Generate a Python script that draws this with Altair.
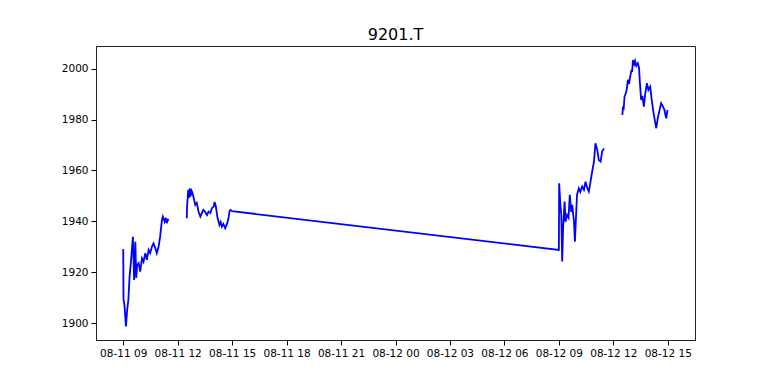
import altair as alt
import pandas as pd

# Day 1 morning session (2020-08-11)
d1am_time = ["09:00", "09:01", "09:04", "09:09", "09:13", "09:17", "09:21", "09:26", "09:32", "09:36",
             "09:40", "09:43", "09:46", "09:51", "09:56", "10:02", "10:07", "10:13", "10:18", "10:24",
             "10:29", "10:35", "10:40", "10:46", "10:51", "10:57", "11:02", "11:08", "11:11", "11:17",
             "11:21", "11:24", "11:29"]
d1am_val = [1929.1, 1909.2, 1907.2, 1898.7, 1905.2, 1909.2, 1918.3, 1924.9, 1934.0, 1917.0,
            1932.0, 1917.8, 1922.9, 1923.6, 1920.3, 1925.5, 1924.1, 1927.5, 1924.9, 1928.8,
            1927.5, 1930.1, 1931.4, 1929.5, 1927.5, 1930.1, 1934.0, 1940.6, 1941.9, 1939.9,
            1941.4, 1939.3, 1941.0]

# Day 1 afternoon session
d1pm_time = ["12:30", "12:31", "12:35", "12:37", "12:40", "12:42", "12:46", "12:49", "12:53", "12:58",
             "13:03", "13:09", "13:15", "13:20", "13:25", "13:31", "13:37", "13:42", "13:48", "13:53",
             "13:59", "14:02", "14:06", "14:12", "14:18", "14:22", "14:26", "14:31", "14:37", "14:43",
             "14:48", "14:51", "14:54", "14:57", "15:00"]
d1pm_val = [1941.2, 1945.8, 1952.4, 1949.2, 1953.0, 1949.7, 1952.0, 1951.1, 1949.2, 1946.5,
            1947.3, 1943.8, 1941.9, 1943.3, 1944.5, 1943.7, 1942.5, 1943.8, 1943.3, 1945.2,
            1945.8, 1947.6, 1946.0, 1941.2, 1938.6, 1939.8, 1937.9, 1939.0, 1937.3, 1939.0,
            1941.2, 1943.8, 1944.5, 1944.3, 1944.0]

# Day 2 morning session (2020-08-12)
d2am_time = ["09:00", "09:01", "09:05", "09:08", "09:11", "09:14", "09:19", "09:22", "09:27", "09:32",
             "09:36", "09:41", "09:44", "09:50", "09:53", "09:57", "10:00", "10:06", "10:11", "10:17",
             "10:23", "10:28", "10:34", "10:39", "10:44", "10:50", "10:56", "11:01", "11:07", "11:12",
             "11:18", "11:23", "11:29"]
d2am_val = [1928.8, 1955.0, 1946.5, 1942.5, 1924.2, 1937.3, 1947.8, 1939.9, 1942.5, 1941.4,
            1950.4, 1943.7, 1946.5, 1939.9, 1932.0, 1942.5, 1950.4, 1953.0, 1951.6, 1953.7,
            1952.4, 1955.6, 1953.1, 1951.7, 1955.1, 1959.5, 1963.5, 1970.7, 1968.1, 1964.1,
            1963.5, 1967.4, 1968.7]

# Day 2 afternoon session
d2pm_time = ["12:30", "12:32", "12:34", "12:37", "12:42", "12:45", "12:48", "12:52", "12:55", "13:00",
             "13:02", "13:05", "13:09", "13:12", "13:16", "13:21", "13:25", "13:28", "13:32", "13:36",
             "13:41", "13:45", "13:51", "13:56", "14:02", "14:07", "14:13", "14:18", "14:22", "14:27",
             "14:33", "14:38", "14:44", "14:49", "14:53", "14:55", "14:59"]
d2pm_val = [1981.8, 1985.1, 1983.8, 1989.0, 1990.5, 1992.4, 1995.6, 1994.0, 1996.3, 1999.5,
            1998.7, 2003.4, 2001.8, 2003.0, 2001.1, 2002.1, 2000.3, 1994.3, 1987.7, 1989.3,
            1985.1, 1989.7, 1994.3, 1991.6, 1992.9, 1987.7, 1982.5, 1979.2, 1976.6, 1980.6,
            1983.8, 1986.4, 1985.1, 1983.8, 1981.4, 1980.5, 1983.8]

rows = []
for day, times, vals, seg in [
    ("2020-08-11", d1am_time, d1am_val, "a"),
    ("2020-08-11", d1pm_time, d1pm_val, "b"),
    ("2020-08-12", d2am_time, d2am_val, "b"),
    ("2020-08-12", d2pm_time, d2pm_val, "c"),
]:
    for t, v in zip(times, vals):
        rows.append({"time": f"{day}T{t}:00", "price": v, "seg": seg})
df = pd.DataFrame(rows)

tick_hours = [(11, 9), (11, 12), (11, 15), (11, 18), (11, 21), (12, 0), (12, 3), (12, 6), (12, 9), (12, 12), (12, 15)]
tick_vals = [alt.DateTime(year=2020, month=8, date=d, hours=h) for d, h in tick_hours]
y_ticks = [1900, 1920, 1940, 1960, 1980, 2000]

font = "DejaVu Sans"

chart = alt.Chart(df, title=alt.TitleParams("9201.T", fontSize=16, font=font, fontWeight="normal",
                                            color="black", anchor="middle", offset=3)).mark_line(
    color="#0000ff", strokeWidth=1.8
).encode(
    x=alt.X("time:T",
            scale=alt.Scale(domain=[alt.DateTime(year=2020, month=8, date=11, hours=7, minutes=30),
                                    alt.DateTime(year=2020, month=8, date=12, hours=16, minutes=30)]),
            axis=alt.Axis(values=tick_vals, format="%m-%d %H", title=None, grid=False,
                          labelFontSize=10.5, labelFont=font, labelColor="black",
                          tickColor="black", domainColor="#222222", tickSize=5, labelPadding=3,
                          labelOverlap=False, labelFlush=False)),
    y=alt.Y("price:Q",
            scale=alt.Scale(domain=[1893.4, 2008.9], nice=False, zero=False),
            axis=alt.Axis(values=y_ticks, title=None, grid=False, format="d",
                          labelFontSize=10.5, labelFont=font, labelColor="black",
                          tickColor="black", domainColor="#222222", tickSize=5, labelPadding=3)),
    detail="seg:N",
).properties(
    width=599, height=294,
    autosize=alt.AutoSizeParams(type="none"),
    padding={"left": 96, "top": 46, "right": 73, "bottom": 42},
).configure(
    background="white"
).configure_view(
    stroke="#222222", strokeWidth=1
)

chart.save("out.html", embed_options={"renderer": "svg", "actions": False})
